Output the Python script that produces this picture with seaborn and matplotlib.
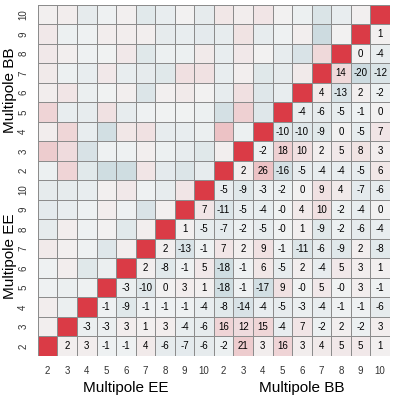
import numpy as np
import seaborn as sns
import matplotlib.pyplot as plt

plt.rcParams['font.family'] = ['Liberation Sans', 'DejaVu Sans']

ells = ['2', '3', '4', '5', '6', '7', '8', '9', '10']
tick_labels = ells + ells

# correlations (%) right of the diagonal, row by row from EE2 up to BB9
upper = [
    [2, 3, -1, -1, 4, -6, -7, -6, -2, 21, 3, 16, 3, 4, 5, 5, 1],
    [-3, -3, 3, 1, 3, -4, -6, 16, 12, 15, -4, 7, -2, 2, -2, 3],
    [-1, -9, -1, -1, -1, -4, -8, -14, -4, -5, -3, -4, -1, -1, -6],
    [-3, -10, 0, 3, 1, -18, -1, -17, 9, -0.3, 5, -0.3, 3, -1],
    [2, -8, -1, 5, -18, -1, 6, -5, 2, -4, 5, 3, 1],
    [2, -13, -1, 7, 2, 9, -1, -11, -6, -9, 2, -8],
    [1, -5, -7, -2, -5, -0.3, 1, -9, -2, -6, -4],
    [7, -11, -5, -4, -0.3, 4, 10, -2, -4, 0],
    [-5, -9, -3, -2, 0, 9, 4, -7, -6],
    [2, 26, -16, -5, -4, -4, -5, 6],
    [-2, 18, 10, 2, 5, 8, 3],
    [-10, -10, -9, 0, -5, 7],
    [-4, -6, -5, -1, 0],
    [4, -13, 2, -2],
    [14, -20, -12],
    [0, -4],
    [1],
]

n = len(tick_labels)
corr = np.eye(n) * 100
labels = np.full((n, n), '', dtype=object)
for i, row in enumerate(upper):
    for k, v in enumerate(row):
        j = i + 1 + k
        corr[i, j] = v
        corr[j, i] = v
        labels[i, j] = f"{v:.0f}"

cmap = sns.diverging_palette(220, 10, as_cmap=True)

fig = plt.figure(figsize=(3.95, 3.95), dpi=100)
ax = fig.add_axes([0.096, 0.099, 0.891, 0.889])
sns.heatmap(corr, ax=ax, cmap=cmap, vmin=-100, vmax=100, cbar=False,
            annot=labels, fmt='', annot_kws={'size': 7, 'color': 'black'},
            linewidths=0.6, linecolor='#8c8c8c')
ax.invert_yaxis()

ax.set_xticks(np.arange(n) + 0.5)
ax.set_xticklabels(tick_labels, fontsize=7, color='#333333')
ax.set_yticks(np.arange(n) + 0.5)
ax.set_yticklabels(tick_labels, fontsize=7, rotation=90, va='center', color='#333333')
ax.tick_params(length=0, pad=7)

ax.text(4.5, -1.3, 'Multipole EE', ha='center', va='top', fontsize=11)
ax.text(13.5, -1.3, 'Multipole BB', ha='center', va='top', fontsize=11)
ax.text(-1.05, 5.1, 'Multipole EE', ha='right', va='center', rotation=90, fontsize=11)
ax.text(-1.05, 13.6, 'Multipole BB', ha='right', va='center', rotation=90, fontsize=11)

fig.savefig('out.png', dpi=100)
